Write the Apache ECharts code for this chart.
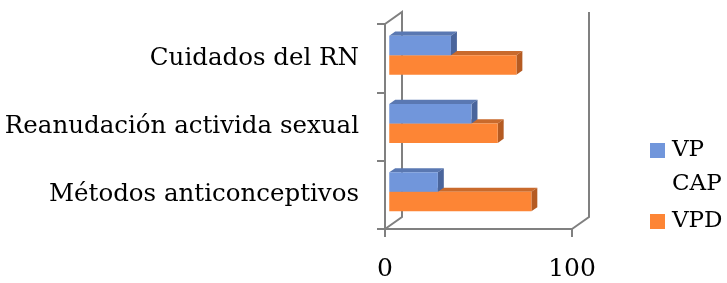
<!DOCTYPE html>
<html>
<head>
<meta charset="utf-8">
<script src="https://cdn.jsdelivr.net/npm/echarts@6/dist/echarts.min.js"></script>
<style>
  html, body { margin: 0; padding: 0; background: #fff; }
  #main { width: 727px; height: 283px; }
</style>
</head>
<body>
<div id="main"></div>
<script>
// datos
var categorias = ['Cuidados del RN', 'Reanudación activida sexual', 'Métodos anticonceptivos'];
var vpCap = [33, 44, 26];
var vpd = [68, 58, 76];
var ejeMin = 0;
var ejeMax = 100;

// marco 3D (cara frontal = grid)
var GL = 385, GT = 24, GW = 187, GH = 205;
var DX = 17, DY = -12;     // profundidad del marco
var D0 = 0.25, D1 = 0.6;   // profundidad de las barras
var BAR_H = 19.5;
var FONT = 'DejaVu Serif';
var GRIS = '#808080';

function barra(signo, caras) {
    return function (params, api) {
        var idx = api.value(0), v = api.value(1);
        var p0 = api.coord([0, idx]);
        var p1 = api.coord([v, idx]);
        var ox = DX * D0, oy = DY * D0;
        var x0 = p0[0] + ox, x1 = p1[0] + ox;
        var yc = p0[1] + oy;
        var yt = signo < 0 ? yc - BAR_H : yc;
        var yb = yt + BAR_H;
        var bx = DX * (D1 - D0), by = DY * (D1 - D0);
        return {
            type: 'group',
            children: [
                { type: 'polygon', shape: { points: [[x0, yt], [x1, yt], [x1 + bx, yt + by], [x0 + bx, yt + by]] }, style: { fill: caras.top } },
                { type: 'polygon', shape: { points: [[x1, yt], [x1 + bx, yt + by], [x1 + bx, yb + by], [x1, yb]] }, style: { fill: caras.side } },
                { type: 'rect', shape: { x: x0, y: yt, width: x1 - x0, height: BAR_H }, style: { fill: caras.front } }
            ]
        };
    };
}

function filas(valores) {
    return valores.map(function (v, i) { return [i, v]; });
}

var myChart = echarts.init(document.getElementById('main'));

var option = {
    backgroundColor: '#fff',
    animation: false,
    grid: { left: GL, top: GT, width: GW, height: GH },
    legend: [
        {
            data: ['VP CAP'],
            orient: 'vertical',
            left: 650, top: 99.5, padding: 0,
            itemWidth: 15, itemHeight: 15,
            icon: 'rect',
            // linea vacia arriba para que "VP" quede a la altura del icono
            formatter: function (name) { return '\u00a0\n' + name.replace(' ', '\n'); },
            textStyle: { fontFamily: FONT, fontSize: 23, lineHeight: 34, color: '#000', padding: [0, 0, 0, 2] }
        },
        {
            data: ['VPD'],
            orient: 'vertical',
            left: 650, top: 210, padding: 0,
            itemWidth: 15, itemHeight: 15,
            icon: 'rect',
            textStyle: { fontFamily: FONT, fontSize: 23, color: '#000', padding: [0, 0, 0, 2] }
        }
    ],
    xAxis: {
        type: 'value',
        min: ejeMin, max: ejeMax, interval: 100,
        splitLine: { show: false },
        axisLine: { show: true, lineStyle: { color: GRIS, width: 2 } },
        axisTick: { show: true, length: 8, lineStyle: { color: GRIS, width: 2 } },
        axisLabel: { fontFamily: FONT, fontSize: 25, color: '#000', margin: 28 }
    },
    yAxis: {
        type: 'category',
        inverse: true,
        data: categorias,
        axisLine: { show: true, lineStyle: { color: GRIS, width: 2 } },
        axisTick: { show: true, length: 8, lineStyle: { color: GRIS, width: 2 } },
        axisLabel: { fontFamily: FONT, fontSize: 24.5, color: '#000', margin: 26 }
    },
    graphic: [
        {
            type: 'polyline', silent: true,
            shape: { points: [[GL, GT], [GL + DX, GT + DY], [GL + DX, GT + GH + DY], [GL, GT + GH]] },
            style: { stroke: GRIS, lineWidth: 2, fill: null }
        },
        {
            type: 'polyline', silent: true,
            shape: { points: [[GL + GW + DX, GT + DY], [GL + GW + DX, GT + GH + DY], [GL + GW, GT + GH]] },
            style: { stroke: GRIS, lineWidth: 2, fill: null }
        }
    ],
    series: [
        {
            name: 'VPD',
            type: 'custom',
            itemStyle: { color: '#fd8535' },
            encode: { y: 0, x: 1 },
            data: filas(vpd),
            renderItem: barra(1, { front: '#fd8535', top: '#c96a2c', side: '#b55b22' })
        },
        {
            name: 'VP CAP',
            type: 'custom',
            itemStyle: { color: '#7196db' },
            encode: { y: 0, x: 1 },
            data: filas(vpCap),
            renderItem: barra(-1, { front: '#7196db', top: '#5a78b2', side: '#4a659c' })
        }
    ]
};

myChart.setOption(option);
</script>
</body>
</html>
